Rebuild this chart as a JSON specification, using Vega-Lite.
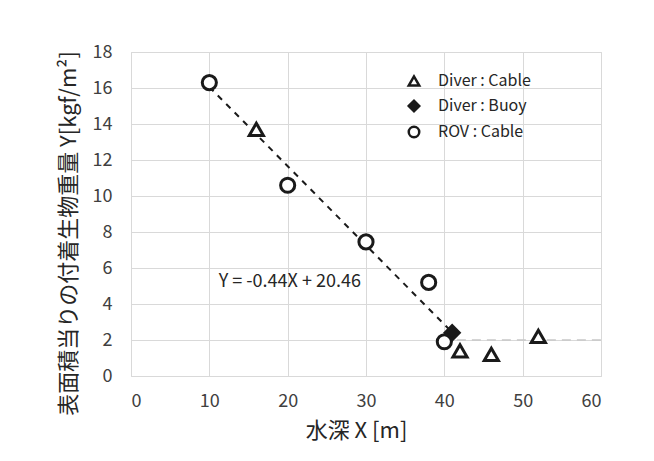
{
  "$schema": "https://vega.github.io/schema/vega-lite/v6.json",
  "width": 470,
  "height": 324,
  "autosize": {"type": "none"},
  "padding": {"left": 131, "top": 52, "right": 53, "bottom": 85},
  "background": "white",
  "config": {
    "view": {"stroke": "#d9d9d9", "strokeWidth": 1},
    "font": "Noto Sans CJK JP",
    "axis": {
      "domain": false,
      "ticks": false,
      "gridColor": "#d9d9d9",
      "gridWidth": 1,
      "labelOverlap": false,
      "labelFont": "Noto Sans CJK JP",
      "labelFontSize": 18,
      "labelColor": "#404040",
      "titleFont": "Noto Sans CJK JP",
      "titleFontSize": 22,
      "titleFontWeight": "normal",
      "titleColor": "#262626"
    }
  },
  "datasets": {
    "pts": [
      {"series": "ROV : Cable", "depth": 10, "weight": 16.3},
      {"series": "ROV : Cable", "depth": 20, "weight": 10.6},
      {"series": "ROV : Cable", "depth": 30, "weight": 7.45},
      {"series": "ROV : Cable", "depth": 38, "weight": 5.2},
      {"series": "ROV : Cable", "depth": 40, "weight": 1.9},
      {"series": "Diver : Cable", "depth": 16, "weight": 13.7},
      {"series": "Diver : Cable", "depth": 42, "weight": 1.4},
      {"series": "Diver : Cable", "depth": 46, "weight": 1.2},
      {"series": "Diver : Cable", "depth": 52, "weight": 2.2},
      {"series": "Diver : Buoy", "depth": 41, "weight": 2.4}
    ],
    "fit": [
      {"depth": 10, "weight": 16.06},
      {"depth": 41, "weight": 2.42}
    ],
    "flat": [
      {"depth": 41.6, "weight": 2.0},
      {"depth": 60, "weight": 2.0}
    ],
    "label": [
      {"depth": 11.2, "weight": 5.25, "text": "Y = -0.44X + 20.46"}
    ]
  },
  "encoding": {
    "x": {
      "field": "depth", "type": "quantitative",
      "scale": {"domain": [0, 60], "nice": false},
      "axis": {"values": [0, 10, 20, 30, 40, 50, 60], "title": "水深 X [m]", "labelPadding": 16, "titlePadding": 10, "titleX": 225}
    },
    "y": {
      "field": "weight", "type": "quantitative",
      "scale": {"domain": [0, 18], "nice": false},
      "axis": {"values": [0, 2, 4, 6, 8, 10, 12, 14, 16, 18], "title": "表面積当りの付着生物重量 Y[kgf/m²]", "labelPadding": 19, "titlePadding": 12, "titleY": 181}
    }
  },
  "layer": [
    {
      "data": {"name": "flat"},
      "mark": {"type": "line", "color": "#c8c8c8", "strokeWidth": 1.5, "strokeDash": [9, 6]}
    },
    {
      "data": {"name": "fit"},
      "mark": {"type": "line", "color": "#1a1a1a", "strokeWidth": 2, "strokeDash": [6, 6]}
    },
    {
      "data": {"name": "pts"},
      "mark": {"type": "point", "filled": true, "stroke": "#1a1a1a", "strokeWidth": 3, "size": 200, "opacity": 1},
      "encoding": {
        "shape": {
          "field": "series", "type": "nominal",
          "scale": {"domain": ["Diver : Cable", "Diver : Buoy", "ROV : Cable"], "range": ["triangle-up", "diamond", "circle"]},
          "legend": {"title": null, "orient": "none", "legendX": 275, "legendY": 21, "labelFontSize": 16, "labelColor": "#262626", "labelFont": "Noto Sans CJK JP", "symbolSize": 110, "symbolStrokeWidth": 2.5, "rowPadding": 4, "labelOffset": 16}
        },
        "fill": {
          "field": "series", "type": "nominal",
          "scale": {"domain": ["Diver : Cable", "Diver : Buoy", "ROV : Cable"], "range": ["white", "#1a1a1a", "white"]},
          "legend": {"title": null, "orient": "none", "legendX": 275, "legendY": 21, "labelFontSize": 16, "labelColor": "#262626", "labelFont": "Noto Sans CJK JP", "symbolSize": 110, "symbolStrokeWidth": 2.5, "rowPadding": 4, "labelOffset": 16}
        },
        "order": {"field": "series", "sort": "descending"}
      }
    },
    {
      "data": {"name": "label"},
      "mark": {"type": "text", "align": "left", "baseline": "middle", "fontSize": 18, "color": "#262626", "font": "Noto Sans CJK JP"},
      "encoding": {
        "text": {"field": "text", "type": "nominal"}
      }
    }
  ]
}
